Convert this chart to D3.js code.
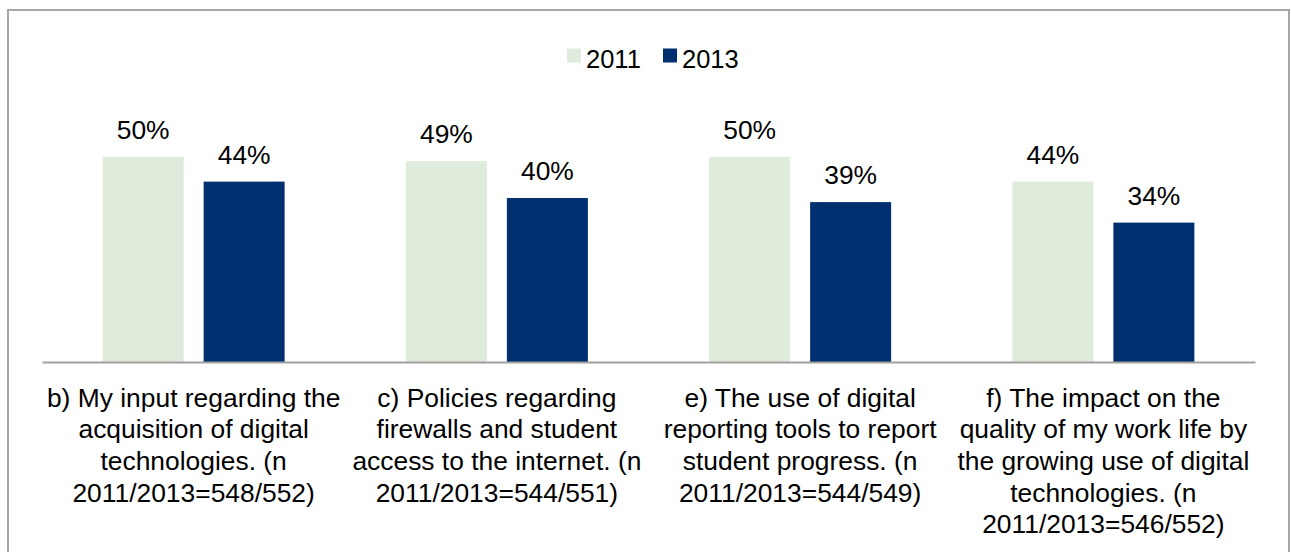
<!DOCTYPE html>
<html>
<head>
<meta charset="utf-8">
<script src="https://cdn.jsdelivr.net/npm/d3@7"></script>
<style>
  html, body { margin: 0; padding: 0; background: #fff; }
  svg { display: block; font-family: "Liberation Sans", Arial, sans-serif; }
</style>
</head>
<body>
<svg id="chart" width="1291" height="552"></svg>
<script>
// Survey items, each label split into its display lines
const categories = ["b", "c", "e", "f"];
const categoryLines = [
  ["b) My input regarding the", "acquisition of digital", "technologies. (n", "2011/2013=548/552)"],
  ["c) Policies regarding", "firewalls and student", "access to the internet. (n", "2011/2013=544/551)"],
  ["e) The use of digital", "reporting tools to report", "student progress. (n", "2011/2013=544/549)"],
  ["f) The impact on the", "quality of my work life by", "the growing use of digital", "technologies. (n", "2011/2013=546/552)"]
];
const seriesNames = ["2011", "2013"];
const values2011 = [0.50, 0.49, 0.50, 0.44];
const values2013 = [0.44, 0.40, 0.39, 0.34];
const seriesColors = ["#dfebdb", "#00306f"];

const svg = d3.select("#chart");

// outer frame
svg.append("rect")
  .attr("x", 8).attr("y", 10)
  .attr("width", 1281).attr("height", 600)
  .attr("fill", "none")
  .attr("stroke", "#a6a6a6")
  .attr("stroke-width", 2);

const plot = { left: 42, right: 1255, top: 116, bottom: 362 };

const x0 = d3.scaleBand()
  .domain(categories)
  .range([plot.left, plot.right])
  .paddingInner(0).paddingOuter(0);

const bw = x0.bandwidth();
const x1 = d3.scaleBand()
  .domain(seriesNames)
  .range([bw / 2 - 91, bw / 2 + 91])
  .paddingInner(20 / 101).paddingOuter(0);

const y = d3.scaleLinear().domain([0, 0.6]).range([plot.bottom, plot.top]);

const table = categories.map((c, i) => ({
  cat: c,
  vals: [
    { s: seriesNames[0], v: values2011[i], color: seriesColors[0] },
    { s: seriesNames[1], v: values2013[i], color: seriesColors[1] }
  ]
}));

const groups = svg.append("g").selectAll("g")
  .data(table)
  .join("g")
  .attr("transform", d => `translate(${x0(d.cat)},0)`);

groups.selectAll("rect")
  .data(d => d.vals)
  .join("rect")
  .attr("x", d => x1(d.s))
  .attr("y", d => y(d.v))
  .attr("width", x1.bandwidth())
  .attr("height", d => y(0) - y(d.v))
  .attr("fill", d => d.color);

const fmt = d3.format(".0%");
groups.selectAll("text.val")
  .data(d => d.vals)
  .join("text")
  .attr("class", "val")
  .attr("x", d => x1(d.s) + x1.bandwidth() / 2)
  .attr("y", d => y(d.v) - 18)
  .attr("text-anchor", "middle")
  .attr("font-size", 26.4)
  .attr("fill", "#000")
  .text(d => fmt(d.v));

// category axis
const xAxis = d3.axisBottom(x0).tickSize(0).tickFormat("");
const axisG = svg.append("g")
  .attr("transform", `translate(0,${plot.bottom})`)
  .call(xAxis);
axisG.select(".domain").attr("stroke", "#a0a0a0").attr("stroke-width", 2);

axisG.selectAll(".tick text").remove();
axisG.selectAll(".tick").each(function(d, i) {
  const t = d3.select(this).append("text")
    .attr("text-anchor", "middle")
    .attr("font-size", 26.4)
    .attr("fill", "#000")
    .attr("y", 44.5);
  categoryLines[i].forEach((line, j) => {
    t.append("tspan").attr("x", 0).attr("dy", j === 0 ? 0 : 31.7).text(line);
  });
});

// legend
const legend = svg.append("g");
const legendItems = [
  { name: seriesNames[0], color: seriesColors[0], x: 567 },
  { name: seriesNames[1], color: seriesColors[1], x: 663 }
];
legendItems.forEach(it => {
  legend.append("rect")
    .attr("x", it.x).attr("y", 48.5)
    .attr("width", 14).attr("height", 14)
    .attr("fill", it.color);
  legend.append("text")
    .attr("x", it.x + 19).attr("y", 68)
    .attr("font-size", 25.5)
    .attr("fill", "#000")
    .text(it.name);
});
</script>
</body>
</html>
